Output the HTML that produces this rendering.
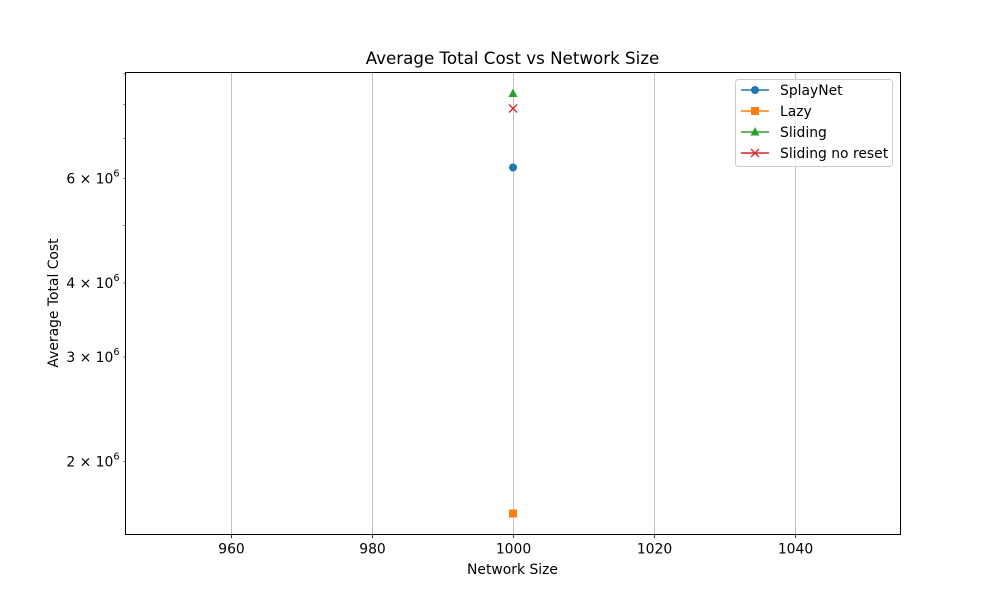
<!DOCTYPE html>
<html><head><meta charset="utf-8"><style>
body{margin:0;background:#fff;}
svg text{font-family:"DejaVu Sans","Liberation Sans",sans-serif;}
</style></head><body>
<svg id="chart" width="1000" height="600" viewBox="0 0 1000 600">
<rect width="1000" height="600" fill="#fff"/>
<text x="512.5" y="64" text-anchor="middle" font-size="16.7">Average Total Cost vs Network Size</text>
<g id="grid"></g>
<g id="ticks"></g>
<g id="marks"></g>
<rect x="125.5" y="72.5" width="775" height="462" fill="none" stroke="#000" stroke-width="1"/>
<text x="512.5" y="574" text-anchor="middle" font-size="13.9">Network Size</text>
<text transform="translate(58,303) rotate(-90)" text-anchor="middle" font-size="13.9">Average Total Cost</text>
<g id="legend"></g>
</svg>
<script>
const networkSizes=[1000];
const seriesNames=["SplayNet","Lazy","Sliding","Sliding no reset"];
const splayNet=[6.26e6];
const lazy=[1.635e6];
const sliding=[8.34e6];
const slidingNoReset=[7.87e6];
const xTicks=[960,980,1000,1020,1040];
const yLabeledTicks=[2e6,3e6,4e6,6e6];
const yTickLabels=["2","3","4","6"];
const yMinorTicks=[5e6,7e6,8e6,9e6];

const L=125.5,R=900.5,T=72.5,B=534.5;
const xMin=945,xMax=1055,yMin=1.507e6,yMax=9.05e6;
const xs=v=>L+(v-xMin)/(xMax-xMin)*(R-L);
const ys=v=>B-(Math.log10(v)-Math.log10(yMin))/(Math.log10(yMax)-Math.log10(yMin))*(B-T);
const NS="http://www.w3.org/2000/svg";
function mk(tag,attrs,parent){const e=document.createElementNS(NS,tag);for(const k in attrs)e.setAttribute(k,attrs[k]);parent.appendChild(e);return e;}
const grid=document.getElementById('grid'),ticks=document.getElementById('ticks'),marks=document.getElementById('marks'),legend=document.getElementById('legend');
xTicks.forEach(v=>{
  const x=Math.round(xs(v))+0.5;
  const g=mk('line',{x1:x,x2:x,y1:T,y2:B,stroke:'#b0b0b0','stroke-width':0.8},grid);
  
  
  mk('line',{x1:x,x2:x,y1:B,y2:B+3.5,stroke:'#000','stroke-width':0.8},ticks);
  const t=mk('text',{x:x,y:B+19,'text-anchor':'middle','font-size':13.9},ticks);
  t.textContent=v;
  
  
});
yLabeledTicks.forEach((v,i)=>{
  const y=ys(v);
  mk('line',{x1:L-2,x2:L,y1:y,y2:y,stroke:'#000','stroke-width':0.6},ticks);
  const t=mk('text',{x:L-6,y:y+5,'text-anchor':'end','font-size':13.9},ticks);
  t.innerHTML=yTickLabels[i]+' × 10<tspan dy="-7" font-size="9.7">6</tspan>';
  
  
});
yMinorTicks.forEach(v=>{const y=ys(v);mk('line',{x1:L-2,x2:L,y1:y,y2:y,stroke:'#000','stroke-width':0.6},ticks);});
const colors=["#1f77b4","#ff7f0e","#2ca02c","#d62728"];
const data=[splayNet,lazy,sliding,slidingNoReset];
function marker(kind,x,y,c,parent){
  let e;
  if(kind==0)e=mk('circle',{cx:x,cy:y,r:4,fill:c},parent);
  else if(kind==1)e=mk('rect',{x:x-4,y:y-4,width:8,height:8,fill:c},parent);
  else if(kind==2)e=mk('polygon',{points:`${x},${y-5} ${x+4.5},${y+3.5} ${x-4.5},${y+3.5}`,fill:c},parent);
  else e=mk('path',{d:`M${x-4},${y-4}L${x+4},${y+4}M${x-4},${y+4}L${x+4},${y-4}`,stroke:c,'stroke-width':1.3},parent);
  return e;
}
data.forEach((s,k)=>{s.forEach((v,i)=>{
  const m=marker(k,xs(networkSizes[i]),ys(v),colors[k],marks);
  
  
});});
mk('rect',{x:735.5,y:79.5,width:157,height:87,rx:3,fill:'#fff','fill-opacity':0.8,stroke:'#ccc'},legend);
seriesNames.forEach((n,k)=>{
  const y=90+k*21;
  const g=mk('g',{},legend);
  
  
  mk('line',{x1:741,x2:769,y1:y,y2:y,stroke:colors[k],'stroke-width':1.5},g);
  marker(k,755,y,colors[k],g);
  const t=mk('text',{x:780,y:y+5,'font-size':13.9},g);
  t.textContent=n;
});
</script>
</body></html>
